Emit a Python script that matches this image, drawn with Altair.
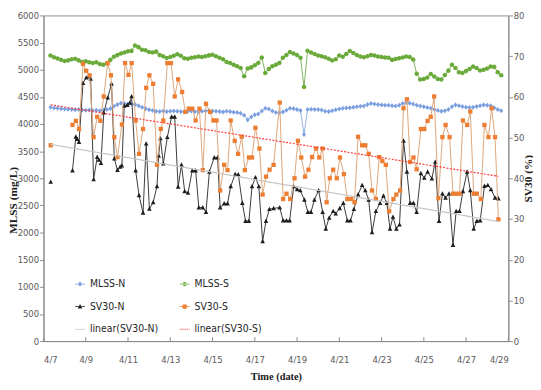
import altair as alt
import numpy as np
import pandas as pd

SERIES = ["MLSS-N", "SV30-N", "linear(SV30-N)", "MLSS-S", "SV30-S", "linear(SV30-S)"]
COLORS = ["#7B9FE0", "#1E1E1E", "#BDBDBD", "#6AAA3A", "#ED7D31", "#FF3B3B"]
LINE_COLORS = {"MLSS-N": "#93B1E6", "MLSS-S": "#7DB55A", "SV30-N": "#3A3A3A", "SV30-S": "#DDA77A"}
TICK_DAYS = list(range(0, 23, 2))

BAR = "M-1,-0.07H1V0.07H-1Z"
DIAMOND = "M0,-1L0.8,0L0,1L-0.8,0Z"
CIRCLE = "M-0.9,0A0.9,0.9,0,1,0,0.9,0A0.9,0.9,0,1,0,-0.9,0Z"
TRIANGLE = "M0,-1L0.9,0.75L-0.9,0.75Z"
SQUARE = "M-0.85,-0.85H0.85V0.85H-0.85Z"
MARKERS = {"MLSS-N": DIAMOND, "MLSS-S": CIRCLE, "SV30-N": TRIANGLE, "SV30-S": SQUARE}
LEGEND_SHAPES = [
    BAR + "M0,-0.55L0.42,0L0,0.55L-0.42,0Z",
    BAR + "M0,-0.5L0.45,0.38L-0.45,0.38Z",
    BAR,
    BAR + "M-0.45,0A0.45,0.45,0,1,0,0.45,0A0.45,0.45,0,1,0,-0.45,0Z",
    BAR + "M-0.42,-0.42H0.42V0.42H-0.42Z",
    "M-1,-0.08H-0.8V0.08H-1ZM-0.62,-0.08H-0.42V0.08H-0.62ZM-0.24,-0.08H-0.04V0.08H-0.24Z"
    "M0.14,-0.08H0.34V0.08H0.14ZM0.52,-0.08H0.72V0.08H0.52ZM0.9,-0.08H1V0.08H0.9Z",
]

# days after 4/7 00:00, one reading every 4 hours
mlss_day = np.round(0.33 + np.arange(129) / 6, 3)
mlss_n = [
    4308, 4293, 4288, 4283, 4278, 4273, 4268, 4263, 4268, 4258, 4253, 4258,
    4248, 4253, 4243, 4258, 4268, 4283, 4327, 4357, 4382, 4377, 4367, 4372,
    4357, 4337, 4307, 4283, 4263, 4248, 4233, 4228, 4238, 4228, 4233, 4238,
    4233, 4228, 4223, 4233, 4238, 4228, 4223, 4233, 4238, 4248, 4238, 4233,
    4228, 4223, 4233, 4228, 4218, 4213, 4198, 4160, 4076, 4130, 4170, 4185,
    4238, 4288, 4278, 4238, 4213, 4208, 4223, 4253, 4288, 4283, 4268, 4248,
    3806, 4268, 4273, 4268, 4268, 4258, 4233, 4228, 4243, 4263, 4278, 4288,
    4293, 4298, 4308, 4317, 4327, 4332, 4357, 4376, 4367, 4357, 4352, 4347,
    4347, 4337, 4332, 4347, 4376, 4391, 4381, 4367, 4347, 4332, 4317, 4303,
    4288, 4268, 4248, 4233, 4243, 4268, 4317, 4352, 4337, 4322, 4308, 4303,
    4308, 4322, 4337, 4352, 4347, 4337, 4298, 4268, 4243,
]
mlss_s = [
    5260, 5231, 5206, 5182, 5162, 5172, 5192, 5202, 5172, 5142, 5157, 5137,
    5122, 5137, 5103, 5093, 5117, 5181, 5240, 5269, 5299, 5318, 5338, 5347,
    5446, 5416, 5367, 5357, 5328, 5318, 5333, 5269, 5250, 5215, 5235, 5259,
    5284, 5259, 5210, 5201, 5220, 5230, 5245, 5235, 5250, 5264, 5274, 5250,
    5220, 5191, 5142, 5122, 5093, 5063, 5033, 4881, 5024, 5043, 5083, 5122,
    5225, 4940, 5014, 5063, 5093, 5122, 5220, 5269, 5328, 5299, 5269, 5220,
    4680, 5348, 5318, 5289, 5260, 5250, 5230, 5201, 5171, 5191, 5260, 5240,
    5289, 5343, 5309, 5269, 5245, 5230, 5250, 5269, 5260, 5245, 5235, 5225,
    5220, 5181, 5196, 5210, 5225, 5245, 5235, 5186, 4925, 4818, 4827, 4857,
    4920, 4876, 4827, 4818, 4904, 4983, 5092, 5033, 4955, 4940, 4974, 5013,
    5057, 5033, 4984, 4999, 5024, 5057, 5052, 4955, 4897,
]

sv30n_day = [
    0.34, 1.37, 1.53, 1.60, 1.68, 1.87, 2.02, 2.15, 2.23, 2.37, 2.54, 2.62, 2.72,
    2.85, 3.04, 3.22, 3.35, 3.50, 3.63, 3.71, 3.82, 3.97, 4.08, 4.17, 4.36, 4.52,
    4.71, 4.86, 5.01, 5.19, 5.37, 5.45, 5.53, 5.67, 5.86, 6.06, 6.21, 6.37, 6.53,
    6.68, 6.84, 7.04, 7.20, 7.35, 7.54, 7.69, 7.85, 8.08, 8.24, 8.36, 8.55, 8.71,
    8.86, 9.07, 9.22, 9.41, 9.56, 9.72, 9.87, 10.03, 10.19, 10.37, 10.53, 10.69,
    10.89, 11.18, 11.34, 11.50, 11.65, 11.84, 12.00, 12.15, 12.35, 12.51, 12.66,
    12.82, 13.02, 13.21, 13.36, 13.52, 13.71, 13.83, 14.02, 14.19, 14.38, 14.53,
    14.69, 14.89, 15.08, 15.23, 15.39, 15.55, 15.73, 15.93, 16.09, 16.25, 16.40,
    16.54, 16.70, 16.85, 17.04, 17.20, 17.35, 17.51, 17.66, 17.86, 18.02, 18.18,
    18.38, 18.54, 18.72, 18.88, 19.03, 19.19, 19.38, 19.53, 19.69, 19.85, 20.05,
    20.20, 20.36, 20.51, 20.67, 20.87, 21.03, 21.18, 21.37, 21.53,
]
sv30n = [
    39.1, 41.9, 50.2, 49.6, 48.9, 63.4, 64.7, 65.0, 64.4, 39.7, 45.2, 44.5, 43.7,
    56.1, 59.8, 63.2, 44.8, 42.0, 42.8, 43.1, 57.8, 58.0, 58.5, 60.1, 41.9, 35.8,
    31.5, 48.5, 32.5, 34.1, 38.0, 45.5, 49.8, 43.6, 50.1, 55.1, 55.1, 37.9, 43.3,
    36.8, 36.4, 41.9, 41.9, 32.8, 32.8, 31.7, 41.6, 45.1, 45.1, 32.8, 33.8, 33.8,
    38.0, 41.0, 40.9, 33.9, 29.5, 29.5, 38.0, 40.2, 38.0, 24.5, 29.5, 32.4,
    32.6, 32.8, 29.6, 29.6, 29.6, 38.0, 37.3, 37.0, 34.7, 31.7, 31.7,
    34.7, 37.0, 31.7, 27.6, 30.3, 31.9, 31.3, 32.6, 33.9, 29.6, 29.6,
    32.4, 36.0, 38.3, 37.0, 34.7, 26.7, 31.9, 33.9, 35.7, 33.9, 27.6,
    30.5, 27.6, 28.6, 49.2, 41.6, 33.9, 33.9, 31.7, 41.2, 40.1, 41.6,
    39.9, 44.0, 29.5, 36.2, 35.2, 36.2, 23.6, 31.9, 31.9, 36.8, 41.6,
    37.0, 27.6, 29.5, 29.6, 38.1, 38.3, 37.3, 35.2, 35.0,
]

sv30s_day = [
    0.34, 1.37, 1.53, 1.68, 1.87, 2.02, 2.18, 2.37, 2.54, 2.69, 2.85, 3.04, 3.19,
    3.35, 3.50, 3.71, 3.86, 4.02, 4.17, 4.36, 4.52, 4.71, 4.86, 5.01, 5.19, 5.37,
    5.55, 5.67, 5.86, 6.03, 6.21, 6.37, 6.56, 6.71, 6.88, 7.04, 7.20, 7.38, 7.54,
    7.69, 7.88, 8.04, 8.19, 8.36, 8.55, 8.71, 8.86, 9.05, 9.21, 9.38, 9.53, 9.72,
    9.87, 10.03, 10.22, 10.37, 10.53, 10.70, 10.89, 11.18, 11.34, 11.50, 11.68,
    11.88, 12.04, 12.20, 12.38, 12.54, 12.71, 12.90, 13.05, 13.21, 13.40, 13.55,
    13.71, 13.88, 14.03, 14.22, 14.38, 14.57, 14.72, 14.89, 15.08, 15.23, 15.39,
    15.55, 15.73, 15.89, 16.04, 16.20, 16.36, 16.56, 16.70, 16.88, 17.04, 17.20,
    17.35, 17.51, 17.66, 17.86, 18.02, 18.18, 18.33, 18.49, 18.69, 18.88, 19.03,
    19.22, 19.38, 19.53, 19.69, 19.85, 20.05, 20.20, 20.36, 20.51, 20.70, 20.87,
    21.06, 21.21, 21.37, 21.53,
]
sv30s = [
    48.1, 53.1, 54.1, 52.1, 68.1, 66.4, 65.3, 50.1, 55.1, 54.1, 60.1, 68.3, 65.3,
    50.1, 45.2, 53.2, 68.3, 65.4, 68.3, 54.2, 46.0, 52.1, 62.2, 65.3, 63.2, 43.3,
    52.1, 54.2, 68.3, 68.3, 60.1, 64.3, 61.2, 56.3, 57.1, 57.1, 54.2, 57.1, 42.0,
    58.3, 56.3, 54.2, 54.2, 37.0, 43.3, 42.0, 54.2, 49.2, 46.0, 50.2, 42.0, 45.1,
    45.1, 52.4, 47.3, 36.0, 40.4, 42.1, 43.3, 58.6, 34.9, 36.2, 34.9,
    40.0, 49.2, 45.1, 40.4, 42.1, 45.2, 47.3, 45.1, 47.3, 34.1, 40.0,
    42.1, 40.0, 45.1, 41.0, 34.9, 34.9, 34.1, 50.2, 48.1, 48.1, 46.0,
    37.0, 34.9, 45.2, 44.2, 43.3, 31.9, 34.9, 36.0, 37.0, 57.2, 59.4,
    44.0, 45.1, 42.2, 52.1, 52.1, 54.1, 55.1, 60.1, 35.1, 50.1, 53.1,
    50.1, 36.2, 36.2, 36.2, 54.2, 53.1, 56.4, 36.2, 36.2, 34.9, 53.1,
    50.1, 57.2, 50.1, 29.9,
]

mlss_df = pd.concat([
    pd.DataFrame({"day": mlss_day, "v": mlss_n, "series": "MLSS-N"}),
    pd.DataFrame({"day": mlss_day, "v": mlss_s, "series": "MLSS-S"}),
])
sv_df = pd.concat([
    pd.DataFrame({"day": sv30n_day, "v": sv30n, "series": "SV30-N"}),
    pd.DataFrame({"day": sv30s_day, "v": sv30s, "series": "SV30-S"}),
])
legend_df = pd.DataFrame({"series": SERIES, "day": 0.0, "v": 0.0})
tick_df = pd.DataFrame({"day": TICK_DAYS})

NARROW = "Liberation Sans Narrow, DejaVu Sans Condensed, Roboto, sans-serif"
SERIF = "Liberation Serif, DejaVu Serif, serif"
W, H = 471, 330

x_enc = alt.X(
    "day:Q", scale=alt.Scale(domain=[0, 22], nice=False, zero=False),
    axis=alt.Axis(values=TICK_DAYS, labelExpr="'4/' + (datum.value + 7)", ticks=False,
                  title="Time (date)", labelPadding=14, titlePadding=7, titleFontSize=10.5),
)
y_left = alt.Y(
    "v:Q", scale=alt.Scale(domain=[0, 6000], nice=False, zero=True),
    axis=alt.Axis(orient="left", values=list(range(0, 6001, 500)), format="d",
                  title="MLSS (mg/L)", labelPadding=1, titleFontSize=11.5,
                  titleBaseline="middle", titleX=-30, titleY=187),
)
y_right = alt.Y(
    "v:Q", scale=alt.Scale(domain=[0, 80], nice=False, zero=True),
    axis=alt.Axis(orient="right", values=list(range(0, 81, 10)), format="d",
                  title="SV30 (%)", titleAngle=270, titleBaseline="middle",
                  labelPadding=1, titleFontSize=11.5, titleX=20.5, titleY=H / 2),
)


def series_layers(df, name, y_enc, skip_first=False):
    d = df[df["series"] == name]
    line_d = d[d["day"] > 1] if skip_first else d
    line = alt.Chart(line_d).mark_line(strokeWidth=1, color=LINE_COLORS[name]).encode(x=x_enc, y=y_enc)
    pts = alt.Chart(d).mark_point(
        filled=True, size=26, opacity=1, shape=MARKERS[name],
        color=COLORS[SERIES.index(name)],
    ).encode(x=x_enc, y=y_enc)
    return [line, pts]


legend_layer = (
    alt.Chart(legend_df)
    .transform_filter("datum.v > 1")
    .mark_point(filled=True, opacity=1)
    .encode(
        x=x_enc, y=y_left,
        color=alt.Color("series:N", scale=alt.Scale(domain=SERIES, range=COLORS),
                        legend=alt.Legend(
                            title=None, orient="none", legendX=31, legendY=266, columns=2,
                            symbolSize=100, labelFont=NARROW, labelFontSize=10.5,
                            labelColor="#262626", labelOffset=4, columnPadding=20, rowPadding=11)),
        shape=alt.Shape("series:N", scale=alt.Scale(domain=SERIES, range=LEGEND_SHAPES)),
    )
)

inner_ticks = alt.Chart(tick_df).mark_rule(color="#8c8c8c").encode(
    x=x_enc, y=alt.value(H), y2=alt.value(H - 4)
)

sv_reg = (
    alt.Chart(sv_df)
    .transform_regression("day", "v", groupby=["series"])
    .transform_calculate(label="'linear(' + datum.series + ')'")
    .mark_line(strokeWidth=1.2)
    .encode(
        x=x_enc, y=y_right,
        stroke=alt.Stroke("label:N", scale=alt.Scale(domain=["linear(SV30-N)", "linear(SV30-S)"],
                                                     range=["#C4C4C4", "#FF3B3B"]), legend=None),
        strokeDash=alt.StrokeDash(
            "label:N",
            scale=alt.Scale(domain=["linear(SV30-N)", "linear(SV30-S)"], range=[[1, 0], [2, 1.5]]),
            legend=None,
        ),
    )
)

mlss_group = alt.layer(
    inner_ticks,
    *series_layers(mlss_df, "MLSS-N", y_left),
    *series_layers(mlss_df, "MLSS-S", y_left),
    legend_layer,
)
sv_group = alt.layer(
    *series_layers(sv_df, "SV30-N", y_right, skip_first=True),
    *series_layers(sv_df, "SV30-S", y_right, skip_first=True),
    sv_reg,
)

chart = (
    alt.layer(mlss_group, sv_group)
    .resolve_scale(y="independent")
    .properties(
        width=W, height=H,
        autosize=alt.AutoSizeParams(type="none"),
        padding={"left": 36, "top": 5, "right": 25, "bottom": 45},
        background="white",
    )
    .configure_view(stroke="#8c8c8c", strokeWidth=1)
    .configure_axis(
        grid=False, domainColor="#8c8c8c", tickColor="#8c8c8c", tickSize=4,
        labelColor="#595959", labelFont=NARROW, labelFontSize=9.5,
        titleFont=SERIF, titleFontWeight="bold", titleColor="#1a1a1a",
    )
)

chart.save("out.html", embed_options={"renderer": "svg", "actions": False})
